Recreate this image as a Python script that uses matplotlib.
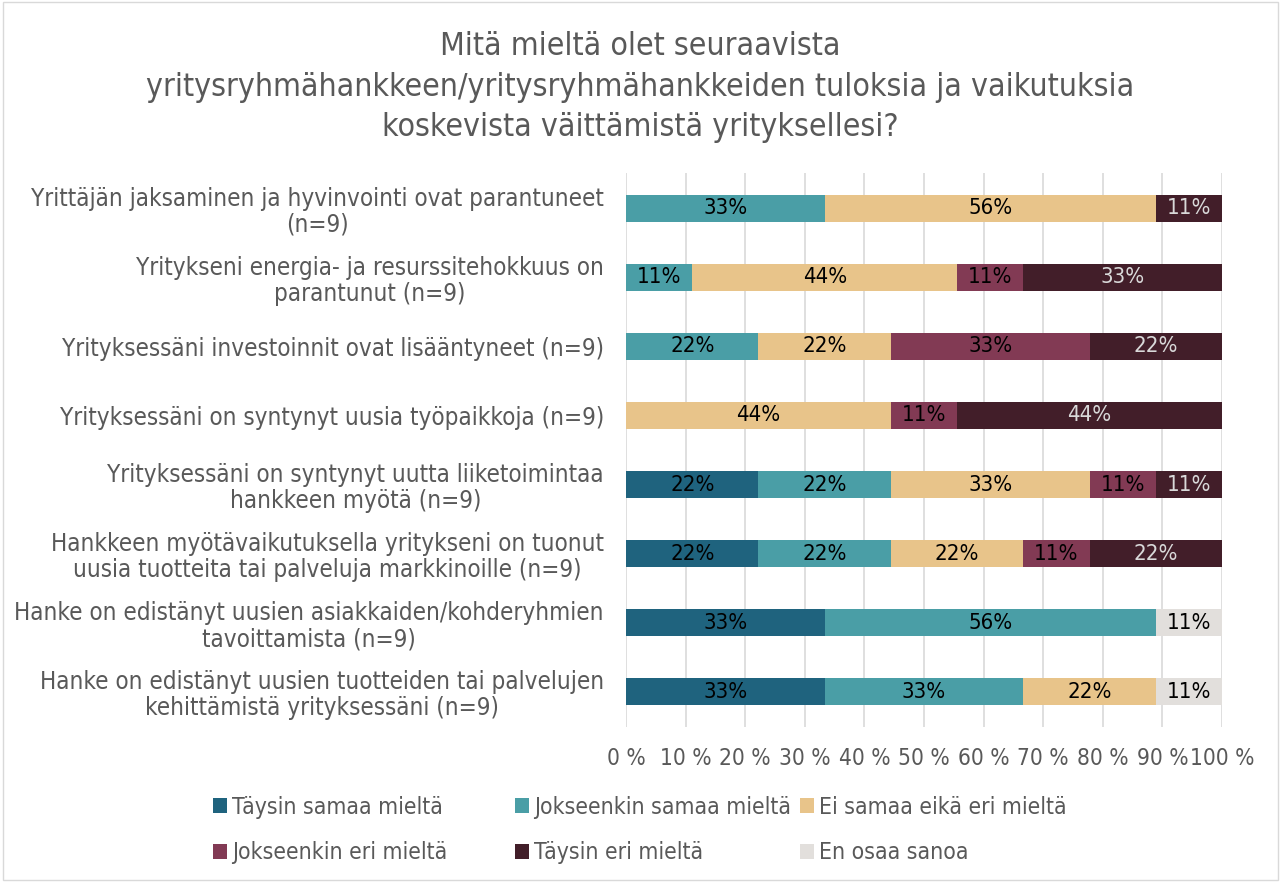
import numpy as np
import matplotlib
matplotlib.use("Agg")
import matplotlib.pyplot as plt
from matplotlib import font_manager as fm
from matplotlib.patches import Rectangle

plt.rcParams['font.family'] = ['DejaVu Sans']
# kapeampi fontti jos löytyy
kapea = [f for f in fm.fontManager.ttflist
         if f.name == 'DejaVu Sans' and str(f.stretch) in ('condensed', 'semi-condensed', '87.5', '75')]
k = 1.0
if kapea:
    plt.rcParams['font.stretch'] = 'condensed'
    k = 1.1

# kysymykset (ylhäältä alas)
kysymykset = [
    "Yrittäjän jaksaminen ja hyvinvointi ovat parantuneet\n(n=9)",
    "Yritykseni energia- ja resurssitehokkuus on\nparantunut (n=9)",
    "Yrityksessäni investoinnit ovat lisääntyneet (n=9)",
    "Yrityksessäni on syntynyt uusia työpaikkoja (n=9)",
    "Yrityksessäni on syntynyt uutta liiketoimintaa\nhankkeen myötä (n=9)",
    "Hankkeen myötävaikutuksella yritykseni on tuonut\nuusia tuotteita tai palveluja markkinoille (n=9)",
    "Hanke on edistänyt uusien asiakkaiden/kohderyhmien\ntavoittamista (n=9)",
    "Hanke on edistänyt uusien tuotteiden tai palvelujen\nkehittämistä yrityksessäni (n=9)",
]

vastaukset = ["Täysin samaa mieltä", "Jokseenkin samaa mieltä", "Ei samaa eikä eri mieltä",
              "Jokseenkin eri mieltä", "Täysin eri mieltä", "En osaa sanoa"]
varit = ["#1F637E", "#4A9EA6", "#E8C48A", "#823A54", "#421E29", "#E2DFDC"]
tekstivarit = ["black", "black", "black", "black", "#D9D9D9", "black"]

# vastausmäärät (n=9)
taysin_samaa = [0, 0, 0, 0, 2, 2, 3, 3]
jokseenkin_samaa = [3, 1, 2, 0, 2, 2, 5, 3]
ei_samaa_eika_eri = [5, 4, 2, 4, 3, 2, 0, 2]
jokseenkin_eri = [0, 1, 3, 1, 1, 1, 0, 0]
taysin_eri = [1, 3, 2, 4, 1, 2, 0, 0]
en_osaa = [0, 0, 0, 0, 0, 0, 1, 1]
n = 9

sarjat = [taysin_samaa, jokseenkin_samaa, ei_samaa_eika_eri, jokseenkin_eri, taysin_eri, en_osaa]

harmaa = "#595959"
fig = plt.figure(figsize=(12.81, 8.82), dpi=100)
ax = fig.add_axes([0.4887, 0.1763, 0.4653, 0.627])

y = np.arange(len(kysymykset))
vasen = np.zeros(len(kysymykset))
kahvat = []
for i, s in enumerate(sarjat):
    p = np.array(s) / n * 100
    b = ax.barh(y, p, left=vasen, height=0.39, color=varit[i], label=vastaukset[i], zorder=3)
    kahvat.append(b)
    for yy, l, w in zip(y, vasen, p):
        if w > 0:
            ax.text(l + w / 2, yy, f"{w:.0f}%", ha='center', va='center',
                    fontsize=14.5 * k, color=tekstivarit[i], zorder=4)
    vasen += p

ax.set_xlim(0, 100)
ax.set_ylim(len(kysymykset) - 0.5, -0.5)
ax.set_xticks(np.arange(0, 101, 10))
ax.set_xticklabels([f"{v} %" for v in range(0, 101, 10)], fontsize=14.8 * k, color=harmaa)
ax.set_yticks(y)
ax.set_yticklabels(kysymykset, fontsize=15.8 * k, color=harmaa, multialignment='center',
                   linespacing=1.1)
ax.tick_params(axis='both', length=0)
ax.tick_params(axis='x', pad=15)
ax.tick_params(axis='y', pad=16)
ax.grid(axis='x', color="#D9D9D9", linewidth=1.2, zorder=0)
for sp in ax.spines.values():
    sp.set_visible(False)

fig.text(0.5, 0.901, "Mitä mieltä olet seuraavista\nyritysryhmähankkeen/yritysryhmähankkeiden tuloksia ja vaikutuksia\nkoskevista väittämistä yrityksellesi?",
         ha='center', va='center', fontsize=20.9 * k, color=harmaa, linespacing=1.4)

# legenda sarakkeittain, kuten alkuperäisessä
sarake_x = [209, 511, 796]
for c in range(3):
    fig.legend([kahvat[c], kahvat[c + 3]], [vastaukset[c], vastaukset[c + 3]],
               loc='center left', bbox_to_anchor=(sarake_x[c] / 1281 - 0.006, 1 - 830 / 882),
               frameon=False, fontsize=15 * k, labelcolor=harmaa, handlelength=0.6,
               handleheight=0.6, handletextpad=0.25, labelspacing=1.0, borderpad=0)

fig.patches.append(Rectangle((0.002, 0.002), 0.996, 0.996, transform=fig.transFigure,
                             fill=False, edgecolor="#D9D9D9", linewidth=1))

fig.savefig("out.png", dpi=100)
